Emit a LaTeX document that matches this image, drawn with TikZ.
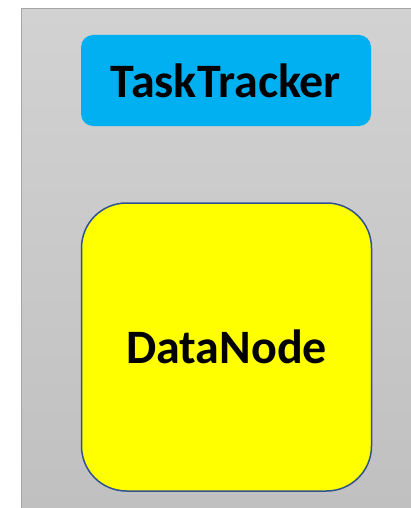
\documentclass[tikz,border=0pt]{standalone}
\usepackage{fontspec}
\setmainfont{Carlito}
\usetikzlibrary{positioning}

\definecolor{trackerblue}{HTML}{00B0F0}
\definecolor{nodeyellow}{HTML}{FFFF00}
\definecolor{nodeborder}{HTML}{2F528F}

\begin{document}
\begin{tikzpicture}[x=1pt,y=-1pt,
   box/.style={rounded corners, inner sep=0pt, font=\fontsize{48}{52}\selectfont\bfseries},
   tracker/.style={box, fill=trackerblue, minimum width=290pt, minimum height=91pt, rounded corners=12pt},
   datanode/.style={box, fill=nodeyellow, draw=nodeborder, line width=1.5pt, minimum width=290pt, minimum height=288pt, rounded corners=45pt}]
  \useasboundingbox (0,0) rectangle (411,508);                                   % Picture size
  \shade[top color={rgb,255:red,210;green,210;blue,210}, bottom color={rgb,255:red,192;green,192;blue,192}]
      (21,9) rectangle (411,508);                                                % Server background
  \draw[gray!70, line width=1pt] (21,508) -- (21,9) -- (411,9);                  % Server outline

  \node[tracker] (tt) at (226,80.5) {TaskTracker};                               % Task tracker box
  \node[datanode] (dn) at (226.5,347) {DataNode};                                % Data node box
\end{tikzpicture}
\end{document}
